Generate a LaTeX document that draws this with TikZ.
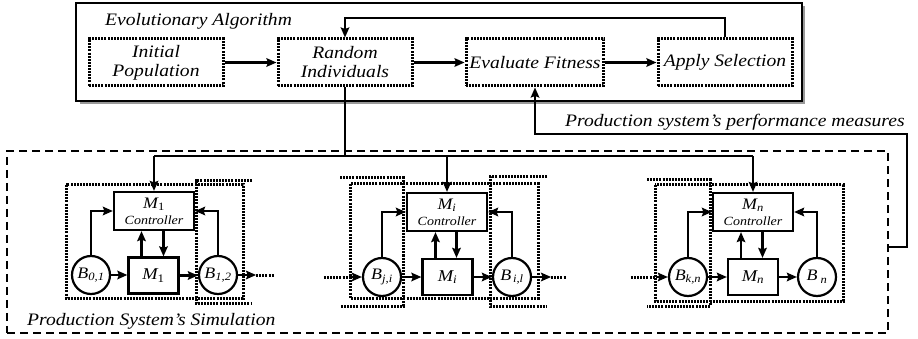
\documentclass[tikz,border=0pt]{standalone}
\usepackage{fontspec}
\setmainfont{Liberation Serif}[FakeStretch=1.12]
\usetikzlibrary{arrows.meta,calc}

\tikzset{
  frame/.style={draw, line width=2.2pt, inner sep=0pt},
  dotbox/.style={draw, line width=3pt, dash pattern=on 2pt off 1.1pt},
  dotln/.style={line width=3pt, dash pattern=on 2pt off 1.1pt},
  dashbox/.style={draw, line width=2.6pt, dash pattern=on 8pt off 5pt},
  arr/.style={line width=2.6pt, -{Stealth[length=10pt,width=8.5pt,inset=1.5pt]}},
  bigarr/.style={arr, line width=3pt},
  lab/.style={font=\itshape\fontsize{17.5}{19}\selectfont, inner sep=0pt},
  ctl/.style={frame, minimum width=80pt, minimum height=38pt, align=center, font=\itshape\fontsize{12.5}{14}\selectfont},
  mach/.style={frame, minimum width=50pt, minimum height=36pt, font=\itshape\fontsize{16.5}{17}\selectfont},
  buf/.style={circle, draw, line width=2.2pt, minimum size=38pt, inner sep=0pt, font=\itshape\fontsize{16}{16}\selectfont},
  stage/.style={dotbox, minimum width=134pt, minimum height=47pt, align=center, font=\itshape\fontsize{17.5}{19}\selectfont},
}

% controller caption: machine name over the word "Controller"
\newcommand\ctlbody[1]{{\fontsize{16}{16}\selectfont M\textsubscript{#1}}\\[2pt]Controller}

\begin{document}
\begin{tikzpicture}[x=1pt,y=-1pt]
\useasboundingbox (0,0) rectangle (918,339);

% ---------- evolutionary algorithm block ----------
\fill[black!40] (80,6) rectangle (805,104);
\node[frame, line width=2.4pt, fill=white, minimum width=726pt, minimum height=98pt] (evo) at (439,52) {};
\node[lab, anchor=base west] (evotitle) at (105,26) {Evolutionary Algorithm};

\node[stage] (init)  at (156,62.5) {Initial\\Population};
\node[stage] (rand)  at (345,62.5) {Random\\Individuals};
\node[stage] (eval)  at (535,62.5) {Evaluate Fitness};
\node[stage] (apply) at (725,62.5) {Apply Selection};

\draw[bigarr] (init) -- (rand);
\draw[bigarr] (rand) -- (eval);
\draw[bigarr] (eval) -- (apply);

\coordinate (fb) at (0,18);
\draw[arr] (apply.north) |- (fb -| rand.north) -- (rand.north);

% ---------- simulation block ----------
\node[dashbox, minimum width=881pt, minimum height=182pt] (sim) at (447.5,242) {};
\node[lab, anchor=base west] (simtitle) at (27,325) {Production System's Simulation};

% module 1
\draw[dotln] (66,185) rectangle (243,298);
\draw[dotln] (252,181) -- (196,181) -- (196,303) -- (252,303);
\node[ctl] (c1) at (154,211) {\ctlbody{\upshape 1}};
\node[mach] (m1) at (153.5,275.5) {M\textsubscript{\upshape 1}};
\node[buf] (b01) at (91,275) {B\textsubscript{0,1}};
\node[buf] (b12) at (218,275) {B\textsubscript{1,2}};

% module i
\draw[dotln] (350,184) rectangle (538,298);
\draw[dotln] (340,178) -- (403,178) -- (403,306) -- (340,306);
\draw[dotln] (547,177) -- (490,177) -- (490,306) -- (547,306);
\node[ctl] (ci) at (447,212) {\ctlbody{i}};
\node[mach] (mi) at (447.5,277) {M\textsubscript{i}};
\node[buf] (bji) at (382,277) {B\textsubscript{j,i}};
\node[buf] (bil) at (512,277) {B\textsubscript{\,i,l}};

% module n
\draw[dotln] (655,185) rectangle (843,301);
\draw[dotln] (647,180) -- (710,180) -- (710,306) -- (647,306);
\node[ctl] (cn) at (753,212) {\ctlbody{n}};
\node[mach] (mn) at (753,277) {M\textsubscript{n}};
\node[buf] (bkn) at (688,277) {B\textsubscript{k,n}};
\node[buf] (bnn) at (817,277) {B\textsubscript{\;n}};

% flows inside each module
\foreach \c/\m/\l/\r in {c1/m1/b01/b12, ci/mi/bji/bil, cn/mn/bkn/bnn}{
  \draw[arr] (\l.east) -- (\l.east -| \m.west);
  \draw[arr] (\m.east) -- (\m.east -| \r.west);
  \draw[arr] (\l.north) |- (\c.west);
  \draw[arr] (\r.north) |- (\c.east);
  \draw[arr] ([xshift=-12pt]\m.north) -- ([xshift=-12pt]\m.north |- \c.south);
  \draw[arr] ([xshift=9.5pt]\c.south) -- ([xshift=9.5pt]\c.south |- \m.north);
}

% part flow between modules
\coordinate (out1a) at ($(b12.east)+(18,0)$);
\coordinate (out1b) at ($(b12.east)+(36,0)$);
\draw[arr] (b12.east) -- (out1a);
\draw[dotln] (out1a) -- (out1b);

\coordinate (inia) at ($(bji.west)+(-38,0)$);
\coordinate (inib) at ($(bji.west)+(-11,0)$);
\draw[dotln] (inia) -- (inib);
\draw[arr] (inib) -- (bji.west);

\coordinate (outia) at ($(bil.east)+(19,0)$);
\coordinate (outib) at ($(bil.east)+(34,0)$);
\draw[arr] (bil.east) -- (outia);
\draw[dotln] (outia) -- (outib);

\coordinate (inna) at ($(bkn.west)+(-37,0)$);
\coordinate (innb) at ($(bkn.west)+(-11,0)$);
\draw[dotln] (inna) -- (innb);
\draw[arr] (innb) -- (bkn.west);

% individuals distributed to the controllers
\coordinate (bus) at (0,156);
\draw[line width=2.4pt] (rand.south) -- (rand.south |- bus);
\draw[line width=2.8pt] (c1.north |- bus) -- (cn.north |- bus);
\draw[arr] (c1.north |- bus) -- (c1.north);
\draw[arr] (ci.north |- bus) -- (ci.north);
\draw[arr] (cn.north |- bus) -- (cn.north);

% performance measures back to the fitness evaluation
\coordinate (pm1) at (sim.east |- 0,247);
\coordinate (pm2) at (907,134);
\draw[arr, line width=2.8pt] (pm1) -| (pm2) -| (eval.south);
\node[lab, anchor=base west] (pmlabel) at (565,127) {Production system's performance measures};

\end{tikzpicture}
\end{document}
